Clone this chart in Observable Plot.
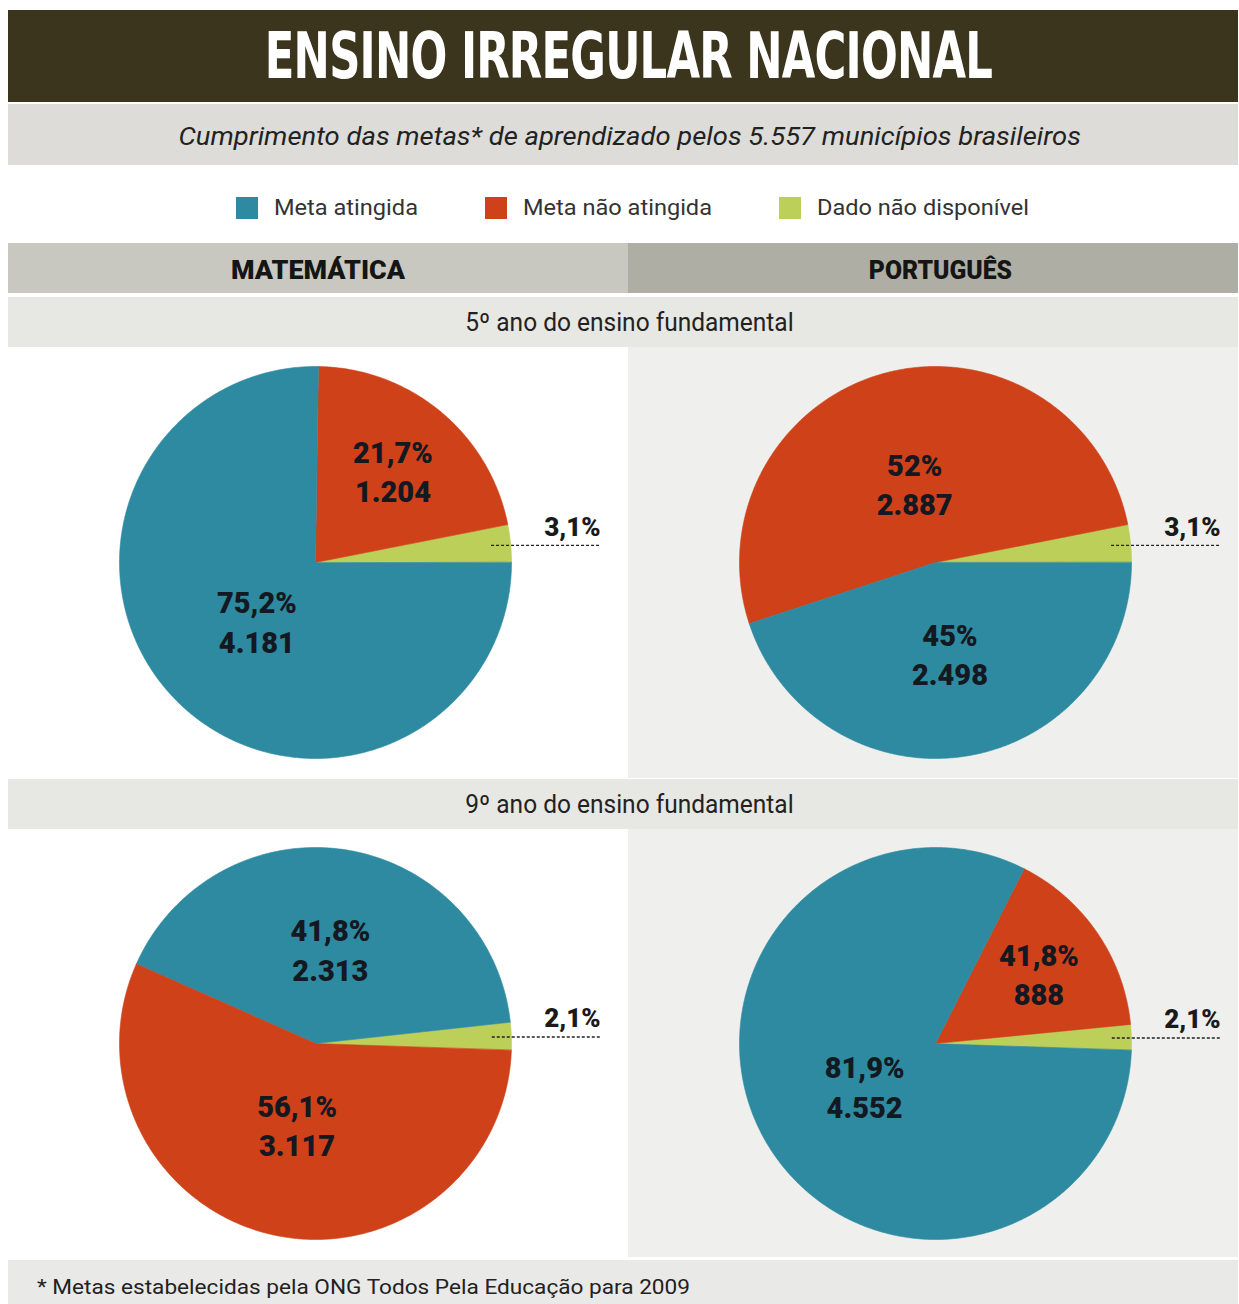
<!DOCTYPE html>
<html><head><meta charset="utf-8">
<script src="https://cdn.jsdelivr.net/npm/d3@7"></script>
<script src="https://cdn.jsdelivr.net/npm/@observablehq/plot@0.6"></script>
<style>
body{margin:0;background:#fff;font-family:Roboto,"Open Sans",sans-serif;}
#root{position:relative;width:1239px;height:1304px;overflow:hidden;background:#fff}
.blk{position:absolute;display:flex;align-items:center;justify-content:center;overflow:hidden;box-sizing:border-box}
.fit{display:inline-block;white-space:nowrap}
.leg{display:flex;align-items:center}
.sw{width:22px;height:22px;display:inline-block;margin-right:16px}
</style></head><body><div id="root"></div>
<script>
// ---------- DATA ----------
const categories = ["Meta atingida", "Meta não atingida", "Dado não disponível"];
const colors = ["#2d8aa0", "#ce4119", "#bccf58"];
const subjects = ["MATEMÁTICA", "PORTUGUÊS"];
const grades = ["5º ano do ensino fundamental", "9º ano do ensino fundamental"];
const title = "ENSINO IRREGULAR NACIONAL";
const subtitle = "Cumprimento das metas* de aprendizado pelos 5.557 municípios brasileiros";
const footnote = "* Metas estabelecidas pela ONG Todos Pela Educação para 2009";
const totalMunicipios = 5557;
// [Meta atingida, Meta não atingida]; "Dado não disponível" = remainder
const mat5Counts = [4181, 1204];
const port5Counts = [2498, 2887];
const mat9Counts = [2313, 3117];
const port9Counts = [4552, 888];
// printed labels [atingida, não atingida, não disponível]
const mat5Pct = ["75,2%", "21,7%", "3,1%"];
const port5Pct = ["45%", "52%", "3,1%"];
const mat9Pct = ["41,8%", "56,1%", "2,1%"];
const port9Pct = ["81,9%", "41,8%", "2,1%"];
const countLabels = {mat5: ["4.181", "1.204"], port5: ["2.498", "2.887"], mat9: ["2.313", "3.117"], port9: ["4.552", "888"]};
// slice sequence, counter-clockwise from 3 o'clock (category indices)
const mat5Order = [2, 1, 0];
const port5Order = [2, 1, 0];
const mat9Order = [2, 0, 1];
const port9Order = [2, 1, 0];

// ---------- LAYOUT ----------
const root = document.getElementById("root");
function block(x, y, w, h, bg) {
  const d = document.createElement("div");
  d.className = "blk";
  Object.assign(d.style, {left: x + "px", top: y + "px", width: w + "px", height: h + "px", background: bg});
  root.appendChild(d);
  return d;
}
function span(parent, text, css) {
  const s = document.createElement("span");
  s.className = "fit";
  s.textContent = text;
  Object.assign(s.style, css);
  parent.appendChild(s);
  return s;
}
const fits = [];
function fit(el, target, origin) { fits.push([el, target, origin || "center"]); }

// title
const tb = block(8, 10, 1230, 92, "#3a351c");
fit(span(tb, title, {color: "#fff", fontFamily: "'DejaVu Sans Condensed','Liberation Sans Narrow','DejaVu Sans',sans-serif", fontWeight: "bold", fontSize: "64px", paddingLeft: "14px", letterSpacing: "-1px"}), 738);
// subtitle
const sb = block(8, 104, 1230, 61, "#dddcd8");
fit(span(sb, subtitle, {color: "#222", fontStyle: "italic", fontSize: "26px", paddingLeft: "12px", paddingTop: "2px"}), 915);
// legend
const lb = block(8, 166, 1230, 75, "#fff");
lb.style.gap = "67px";
lb.style.paddingLeft = "18px";
lb.style.paddingTop = "8px";
const legTargets = [144, 189, 212];
categories.forEach((c, i) => {
  const it = document.createElement("div");
  it.className = "leg";
  const sw = document.createElement("span");
  sw.className = "sw";
  sw.style.background = colors[i];
  it.appendChild(sw);
  const t = span(it, c, {fontSize: "22px", color: "#333"});
  fit(t, legTargets[i], "left");
  it.style.width = (22 + 16 + legTargets[i]) + "px";
  lb.appendChild(it);
});
// subject headers
const h1 = block(8, 243, 620, 50, "#c8c8c1");
h1.style.paddingTop = "5px";
fit(span(h1, subjects[0], {fontWeight: "900", fontSize: "25px", color: "#151515"}), 174);
const h2 = block(628, 243, 610, 50, "#afaea5");
h2.style.paddingTop = "5px";
fit(span(h2, subjects[1], {fontWeight: "900", fontSize: "25px", color: "#151515", paddingLeft: "14px"}), 157);
// grade bands
const g1 = block(8, 297, 1230, 50, "#e7e7e4");
fit(span(g1, grades[0], {fontSize: "25px", color: "#222", paddingLeft: "13px"}), 341);
const g2 = block(8, 779, 1230, 50, "#e7e7e4");
fit(span(g2, grades[1], {fontSize: "25px", color: "#222", paddingLeft: "13px"}), 341);
// footnote
const fb = block(8, 1260, 1230, 44, "#e9e9e7");
fb.style.justifyContent = "flex-start";
fb.style.paddingTop = "10px";
const fs = span(fb, footnote, {fontSize: "21px", color: "#222", marginLeft: "29px"});
fit(fs, 653, "left");

// ---------- PIES ----------
const R = 196;        // pie radius in px
const CX = 307;       // pie centre x within panel
const deg = Math.PI / 180;

function piePlot(counts, order, pcts, counts2, w, h, cy, bg, rot) {
  const values = [counts[0], counts[1], totalMunicipios - counts[0] - counts[1]];
  const total = d3.sum(values);
  let acc = 0;
  const slices = order.map(i => {
    const a0 = rot + acc / total * 2 * Math.PI;
    acc += values[i];
    const a1 = rot + acc / total * 2 * Math.PI;
    return {i, cat: categories[i], a0, a1};
  });
  const pts = [];
  for (const s of slices) {
    pts.push({cat: s.cat, x: 0, y: 0});
    const n = Math.max(2, Math.ceil((s.a1 - s.a0) / (0.5 * deg)));
    for (let k = 0; k <= n; k++) {
      const a = s.a0 + (s.a1 - s.a0) * k / n;
      pts.push({cat: s.cat, x: Math.cos(a), y: Math.sin(a)});
    }
  }
  const labels = slices.filter(s => s.i < 2).map(s => {
    const th = s.a1 - s.a0, m = (s.a0 + s.a1) / 2;
    const r = Math.max(4 * Math.sin(th / 2) / (3 * th), 0.42);
    return {x: r * Math.cos(m), y: r * Math.sin(m), text: pcts[s.i] + "\n" + counts2[s.i]};
  });
  const g = slices.find(s => s.i === 2);
  const gm = (g.a0 + g.a1) / 2;
  const leader = [{x1: 0.9 * Math.cos(gm), y1: 0.9 * Math.sin(gm), x2: 1.455, y2: 0.9 * Math.sin(gm), text: pcts[2]}];
  return Plot.plot({
    width: w, height: h, margin: 0,
    x: {domain: [-CX / R, (w - CX) / R], axis: null},
    y: {domain: [-(h - cy) / R, cy / R], axis: null},
    color: {domain: categories, range: colors},
    style: {background: bg, fontFamily: "Roboto, sans-serif", display: "block"},
    marks: [
      Plot.line(pts, {x: "x", y: "y", z: "cat", fill: "cat", stroke: "cat", strokeWidth: 0.6, curve: "linear-closed"}),
      Plot.text(labels, {x: "x", y: "y", text: "text", fontSize: 29, fontWeight: 900, lineHeight: 1.37, fill: "#141820"}),
      Plot.link(leader, {x1: "x1", y1: "y1", x2: "x2", y2: "y2", stroke: "#222", strokeWidth: 1.3, strokeDasharray: "3,2"}),
      Plot.text(leader, {x: "x2", y: "y2", text: "text", textAnchor: "end", dy: -18, fontSize: 26, fontWeight: 900, fill: "#1a1a1a"})
    ]
  });
}
function place(node, x, y) {
  node.style.position = "absolute";
  node.style.left = x + "px";
  node.style.top = y + "px";
  root.appendChild(node);
}
place(piePlot(mat5Counts, mat5Order, mat5Pct, countLabels.mat5, 620, 431, 215, "#ffffff", 0), 8, 347);
place(piePlot(port5Counts, port5Order, port5Pct, countLabels.port5, 610, 431, 215, "#efefed", 0), 628, 347);
place(piePlot(mat9Counts, mat9Order, mat9Pct, countLabels.mat9, 620, 428, 214, "#ffffff", -2 * deg), 8, 829);
place(piePlot(port9Counts, port9Order, port9Pct, countLabels.port9, 610, 428, 214, "#efefed", -2 * deg), 628, 829);

// apply text fitting
for (const [el, target, origin] of fits) {
  const w = el.getBoundingClientRect().width;
  el.style.transformOrigin = origin;
  if (w > 0) el.style.transform = `scaleX(${target / w})`;
}
</script></body></html>
